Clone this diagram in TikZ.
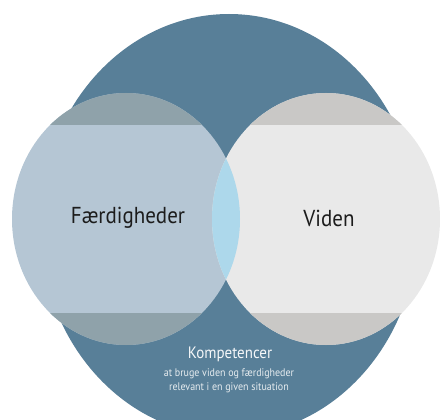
\documentclass[tikz,border=0pt]{standalone}
\usepackage{fontspec}
\setmainfont{PT Sans}
\definecolor{bigblue}{HTML}{587F98}
\definecolor{leftmain}{HTML}{B5C6D4}
\definecolor{leftband}{HTML}{8FA2AA}
\definecolor{rightmain}{HTML}{E9E9E9}
\definecolor{rightband}{HTML}{C9C8C6}
\definecolor{lensblue}{HTML}{ADD8EB}
\definecolor{darktext}{HTML}{1C1C1C}
\tikzset{
  bigtext/.style={font=\fontsize{21}{24}\selectfont, text=darktext, inner sep=0pt, yscale=1.1},
  komptitle/.style={font=\fontsize{15}{17}\selectfont, text=white!94!bigblue, inner sep=0pt, yscale=1.1},
  kompsub/.style={font=\fontsize{10}{13}\selectfont, text=white!85!bigblue, inner sep=0pt, align=center, yscale=1.1}
}
\begin{document}
\begin{tikzpicture}[x=1pt,y=-1pt]
\useasboundingbox (0,0) rectangle (440,420);
\clip (0,0) rectangle (440,420);
% big ellipse
\fill[bigblue] (229,225) ellipse [x radius=189, y radius=211];
% left circle
\begin{scope}
  \clip (126,219) ellipse [x radius=114, y radius=126];
  \fill[leftmain] (0,0) rectangle (440,420);
  \fill[leftband] (0,0) rectangle (440,125);
  \fill[leftband] (0,313) rectangle (440,420);
\end{scope}
% right circle
\begin{scope}
  \clip (326,219) ellipse [x radius=114, y radius=126];
  \fill[rightmain] (0,0) rectangle (440,420);
  \fill[rightband] (0,0) rectangle (440,125);
  \fill[rightband] (0,313) rectangle (440,420);
\end{scope}
% lens
\begin{scope}
  \clip (126,219) ellipse [x radius=114, y radius=126];
  \fill[lensblue] (326,219) ellipse [x radius=114, y radius=126];
\end{scope}
\node[bigtext] (faerd) at (128,218) {Færdigheder};
\node[bigtext] (viden) at (329,218) {Viden};
\node[komptitle] (komp) at (230,354) {Kompetencer};
\node[kompsub, anchor=north] (sub) at (229,368) {at bruge viden og færdigheder\\relevant i en given situation};
\end{tikzpicture}
\end{document}
